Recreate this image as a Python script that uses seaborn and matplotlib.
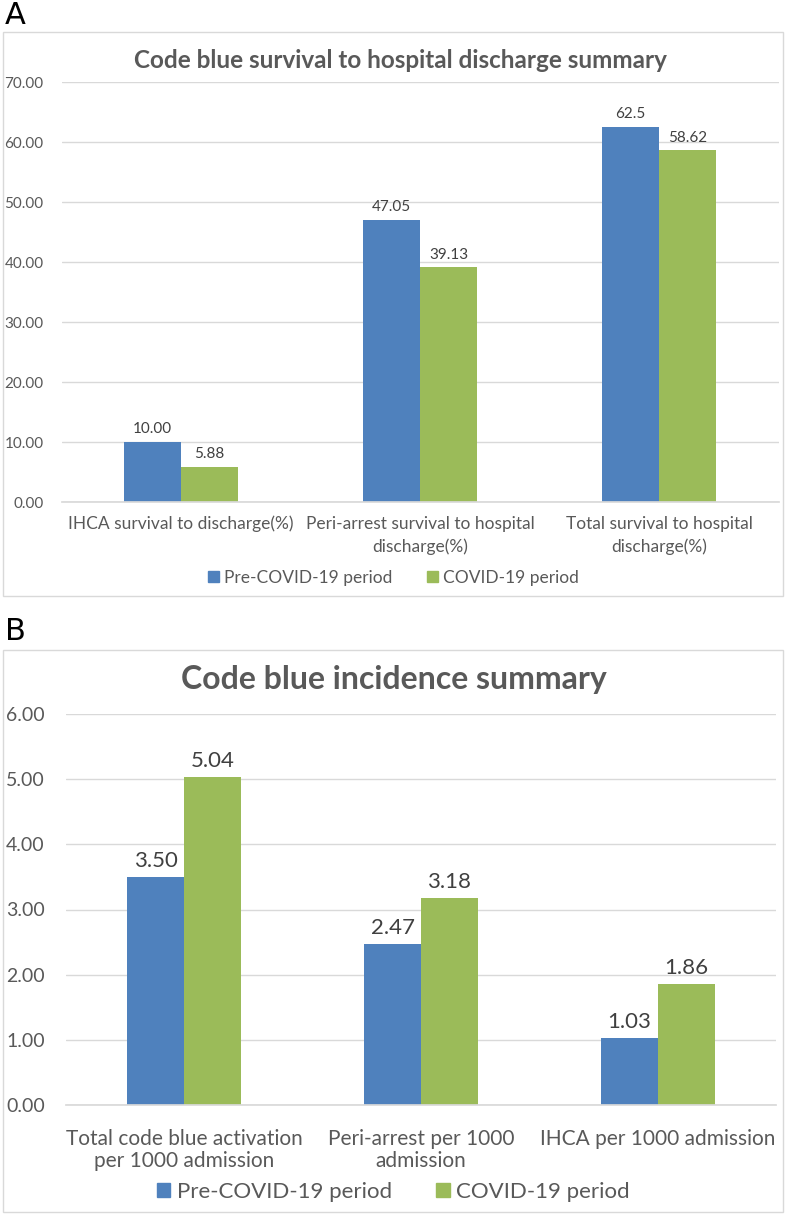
import matplotlib
matplotlib.use("Agg")
import matplotlib.pyplot as plt
from matplotlib.patches import Rectangle
import seaborn as sns
import pandas as pd

# panel A data
cats_a = ["IHCA survival to discharge(%)",
          "Peri-arrest survival to hospital\ndischarge(%)",
          "Total survival to hospital\ndischarge(%)"]
pre_a = [10.00, 47.05, 62.5]
covid_a = [5.88, 39.13, 58.62]
labels_pre_a = ["10.00", "47.05", "62.5"]
labels_covid_a = ["5.88", "39.13", "58.62"]

# panel B data
cats_b = ["Total code blue activation\nper 1000 admission",
          "Peri-arrest per 1000\nadmission",
          "IHCA per 1000 admission"]
pre_b = [3.50, 2.47, 1.03]
covid_b = [5.04, 3.18, 1.86]

periods = ["Pre-COVID-19 period", "COVID-19 period"]
colors = ["#4F81BD", "#9BBB59"]
grey = "#595959"

sns.set_theme(style="white")
plt.rcParams["font.family"] = ["Lato", "DejaVu Sans"]


def long_df(cats, pre, cov):
    return pd.DataFrame({
        "cat": cats * 2,
        "val": pre + cov,
        "period": [periods[0]] * len(cats) + [periods[1]] * len(cats),
    })


fig = plt.figure(figsize=(7.87, 12.16), dpi=100)

# outer boxes
fig.patches.append(Rectangle((3 / 787, 1 - 596 / 1216), 780 / 787, 564 / 1216,
                             transform=fig.transFigure, fill=False, ec="#D9D9D9", lw=1))
fig.patches.append(Rectangle((3 / 787, 1 - 1212 / 1216), 780 / 787, 562 / 1216,
                             transform=fig.transFigure, fill=False, ec="#D9D9D9", lw=1))

fig.text(5 / 787, 1 - 16 / 1216, "A", fontsize=22, va="center", ha="left",
         family="DejaVu Sans", color="black")
fig.text(5 / 787, 1 - 632 / 1216, "B", fontsize=22, va="center", ha="left",
         family="DejaVu Sans", color="black")


def draw(ax, df, ymax, step, labels, ytick_fs, ypad, xtick_fs, xpad, lsp,
         lab_fs, legend_y, leg_fs):
    sns.barplot(data=df, x="cat", y="val", hue="period", palette=colors,
                width=0.48, ax=ax, saturation=1, legend=False, linewidth=0)
    ax.set_ylim(0, ymax)
    ax.set_xlim(-0.5, 2.5)
    ticks = [i * step for i in range(int(round(ymax / step)) + 1)]
    ax.set_yticks(ticks)
    ax.set_yticklabels(["{:.2f}".format(t) for t in ticks], color=grey, fontsize=ytick_fs)
    ax.tick_params(axis="y", length=0, pad=ypad)
    ax.tick_params(axis="x", length=0, labelsize=xtick_fs, labelcolor=grey, pad=xpad)
    for t in ax.get_xticklabels():
        t.set_linespacing(lsp)
    ax.grid(axis="y", color="#D9D9D9", lw=1)
    ax.set_axisbelow(True)
    for s in ["top", "right", "left"]:
        ax.spines[s].set_visible(False)
    ax.spines["bottom"].set_color("#D9D9D9")
    ax.set_xlabel("")
    ax.set_ylabel("")
    for cont, labs in zip(ax.containers, labels):
        ax.bar_label(cont, labels=labs, padding=4, color="#404040", fontsize=lab_fs)
    handles = [Rectangle((0, 0), 1, 1, color=c) for c in colors]
    fig.legend(handles, periods, loc="center", bbox_to_anchor=(0.5, legend_y),
               ncol=2, frameon=False, fontsize=leg_fs, handlelength=0.6,
               handleheight=0.6, handletextpad=0.3, columnspacing=2.0,
               labelcolor=grey)


ax_a = fig.add_axes([61.5 / 787, 1 - 502 / 1216, 717 / 787, 420 / 1216])
draw(ax_a, long_df(cats_a, pre_a, covid_a), 70, 10,
     [labels_pre_a, labels_covid_a], 11, 13, 12.5, 10, 1.45,
     11, 1 - 578 / 1216, 12.5)
fig.text(400 / 787, 1 - 60 / 1216, "Code blue survival to hospital discharge summary",
         ha="center", va="center", fontsize=17.5, fontweight="bold", color=grey)

ax_b = fig.add_axes([65.5 / 787, 1 - 1105 / 1216, 711 / 787, 391 / 1216])
draw(ax_b, long_df(cats_b, pre_b, covid_b), 6, 1,
     [["{:.2f}".format(v) for v in pre_b], ["{:.2f}".format(v) for v in covid_b]],
     14, 15, 15, 17, 1.15, 16, 1 - 1192 / 1216, 16)
fig.text(394 / 787, 1 - 680 / 1216, "Code blue incidence summary",
         ha="center", va="center", fontsize=23, fontweight="bold", color=grey)

fig.savefig("out.png", dpi=100)
